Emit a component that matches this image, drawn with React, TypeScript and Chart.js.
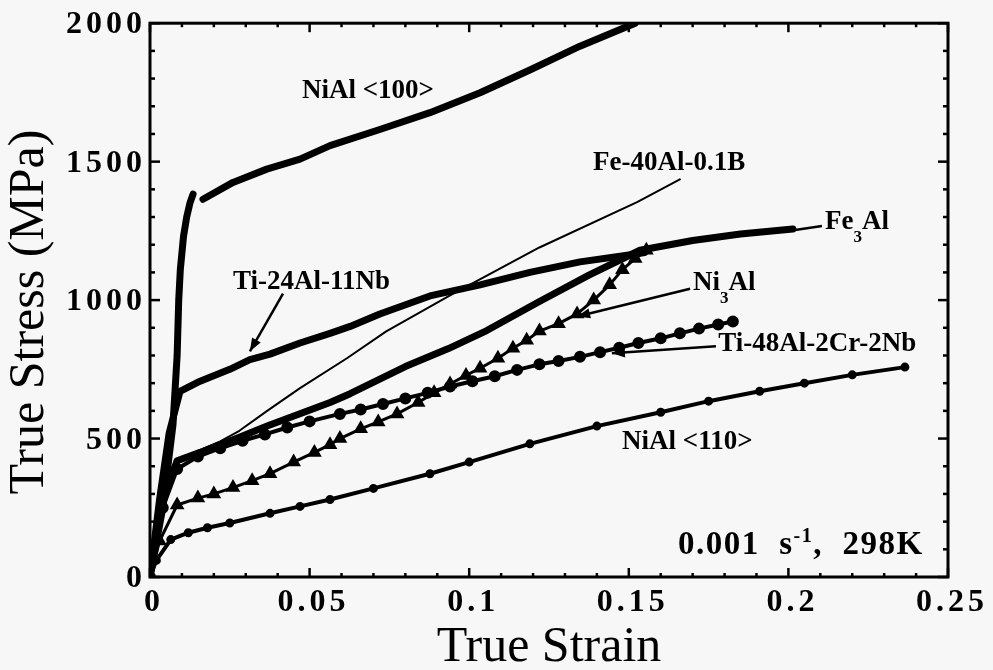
import React, { useEffect, useRef } from "react";
import { Chart, registerables } from "chart.js";

Chart.register(...registerables);

const SERIF = '"Liberation Serif", "Times New Roman", Times, serif';

// ---- axis ticks ----
const xTicks = [0, 0.05, 0.1, 0.15, 0.2, 0.25];
const xTickLabels = ["0", "0.05", "0.1", "0.15", "0.2", "0.25"];
const yTicks = [0, 500, 1000, 1500, 2000];
const yTickLabels = ["0", "500", "1000", "1500", "2000"];

// ---- series (true strain, true stress MPa) ----
const nial100Strain = [0, 0.004, 0.0072, 0.0085, 0.009, 0.0095, 0.0105, 0.0115, 0.0125, 0.0135, 0.015, 0.0166, 0.026, 0.0366, 0.047, 0.0564, 0.072, 0.0877, 0.1034, 0.119, 0.1347, 0.152];
const nial100Stress = [0, 250, 550, 800, 1000, 1110, 1230, 1300, 1350, 1383, null, 1364, 1425, 1473, 1509, 1558, 1616, 1677, 1749, 1831, 1917, 2000];

const ti24Strain = [0, 0.003, 0.006, 0.0094, 0.0157, 0.025, 0.0313, 0.0376, 0.047, 0.0564, 0.0627, 0.072, 0.0877, 0.1034, 0.119, 0.1347, 0.15, 0.155];
const ti24Stress = [0, 280, 520, 670, 707, 750, 785, 805, 845, 880, 905, 950, 1015, 1055, 1100, 1138, 1163, 1172];

const fe40Strain = [0, 0.003, 0.008, 0.015, 0.022, 0.028, 0.0367, 0.047, 0.0617, 0.074, 0.094, 0.122, 0.1526, 0.166];
const fe40Stress = [0, 300, 420, 455, 490, 528, 600, 682, 790, 887, 1017, 1190, 1354, 1436];

const fe3alStrain = [0, 0.003, 0.0085, 0.0157, 0.028, 0.0367, 0.0564, 0.0627, 0.08, 0.0935, 0.1055, 0.122, 0.1375, 0.1535, 0.17, 0.185, 0.2014];
const fe3alStress = [0, 250, 420, 450, 505, 545, 630, 662, 760, 825, 890, 995, 1090, 1180, 1215, 1239, 1257];

const ti48Strain = [0, 0.004, 0.0085, 0.015, 0.022, 0.029, 0.036, 0.043, 0.05, 0.0595, 0.066, 0.073, 0.08, 0.087, 0.094, 0.101, 0.108, 0.115, 0.122, 0.128, 0.1347, 0.141, 0.147, 0.153, 0.16, 0.166, 0.172, 0.178, 0.1826];
const ti48Stress = [0, 250, 390, 435, 465, 492, 515, 540, 562, 589, 605, 625, 645, 665, 688, 707, 725, 748, 768, 780, 795, 812, 828, 845, 862, 880, 897, 912, 923];

const ni3alStrain = [0, 0.003, 0.0085, 0.015, 0.02, 0.026, 0.032, 0.0376, 0.045, 0.0515, 0.0564, 0.0595, 0.066, 0.0715, 0.0774, 0.084, 0.089, 0.094, 0.099, 0.1034, 0.109, 0.1137, 0.118, 0.122, 0.128, 0.1338, 0.139, 0.144, 0.148, 0.152, 0.1555];
const ni3alStress = [0, 130, 260, 285, 300, 323, 348, 373, 415, 450, 478, 500, 535, 560, 589, 630, 665, 697, 728, 754, 790, 826, 855, 888, 915, 950, 1000, 1055, 1110, 1150, 1180];

const nial110Strain = [0, 0.002, 0.0065, 0.012, 0.018, 0.025, 0.0376, 0.047, 0.0564, 0.07, 0.0877, 0.1, 0.119, 0.14, 0.16, 0.175, 0.191, 0.205, 0.22, 0.2365];
const nial110Stress = [0, 60, 135, 160, 178, 195, 230, 255, 280, 320, 373, 415, 481, 545, 595, 635, 671, 700, 730, 758];

// ---- annotation texts ----
const curveLabels = [
  { parts: [{ t: "NiAl <100>" }], x: 0.0476, y: 1756 },
  { parts: [{ t: "Fe-40Al-0.1B" }], x: 0.1388, y: 1494 },
  { parts: [{ t: "Fe" }, { t: "3", sub: true }, { t: "Al" }], x: 0.2115, y: 1282 },
  { parts: [{ t: "Ti-24Al-11Nb" }], x: 0.026, y: 1066 },
  { parts: [{ t: "Ni" }, { t: "3", sub: true }, { t: "Al" }], x: 0.1701, y: 1063 },
  { parts: [{ t: "Ti-48Al-2Cr-2Nb" }], x: 0.178, y: 840 },
  { parts: [{ t: "NiAl <110>" }], x: 0.1479, y: 488 },
];
const conditionLabel = { parts: [{ t: "0.001  s" }, { t: "-1", sup: true }, { t: ",  298K" }], x: 0.1654, y: 115 };

const arrows = [
  { from: [0.04167, 1023], to: [0.0313, 815], head: true },
  { from: [0.1692, 1041], to: [0.1338, 941], head: true },
  { from: [0.1773, 833], to: [0.1447, 808], head: true },
  { from: [0.2105, 1268], to: [0.2021, 1253], head: false },
];

const xTitle = "True Strain";
const yTitle = "True Stress (MPa)";

function pts(xs: number[], ys: (number | null)[]) {
  return xs.map((x, i) => ({ x, y: ys[i] }));
}

type Part = { t: string; sub?: boolean; sup?: boolean };

function drawRich(ctx: CanvasRenderingContext2D, parts: Part[], px: number, py: number, size: number, spacing: string) {
  let x = px;
  ctx.textAlign = "left";
  ctx.textBaseline = "middle";
  for (const p of parts) {
    const s = p.sub || p.sup ? Math.round(size * 0.62) : size;
    ctx.font = `bold ${s}px ${SERIF}`;
    (ctx as any).letterSpacing = spacing;
    const dy = p.sub ? size * 0.58 : p.sup ? -size * 0.26 : 0;
    ctx.fillText(p.t, x, py + dy);
    x += ctx.measureText(p.t).width;
  }
}

const framePlugin = {
  id: "framePlugin",
  beforeDraw(chart: any) {
    (chart.ctx as any).letterSpacing = "4px";
  },
  beforeDatasetsDraw(chart: any) {
    (chart.ctx as any).letterSpacing = "0px";
  },
  afterDatasetsDraw(chart: any) {
    const ctx: CanvasRenderingContext2D = chart.ctx;
    const { left, right, top, bottom } = chart.chartArea;
    const xs = chart.scales.x;
    const ys = chart.scales.y;
    ctx.save();
    (ctx as any).letterSpacing = "0px";
    ctx.strokeStyle = "#000";
    ctx.fillStyle = "#000";
    // frame
    ctx.lineWidth = 3;
    ctx.strokeRect(left, top, right - left, bottom - top);
    // ticks
    ctx.lineWidth = 2.5;
    const line = (a: number, b: number, c: number, d: number) => {
      ctx.beginPath();
      ctx.moveTo(a, b);
      ctx.lineTo(c, d);
      ctx.stroke();
    };
    for (let i = 0; i <= 25; i++) {
      const px = xs.getPixelForValue(i * 0.01);
      const len = i % 5 === 0 ? 9 : 4;
      line(px, bottom, px, bottom - len);
      line(px, top, px, top + len);
    }
    for (let i = 0; i <= 20; i++) {
      const py = ys.getPixelForValue(i * 100);
      const len = i % 5 === 0 ? 10 : 5;
      line(left, py, left + len, py);
      line(right, py, right - len, py);
    }
    // arrows / leaders
    ctx.lineWidth = 2.5;
    for (const a of arrows) {
      const x1 = xs.getPixelForValue(a.from[0]);
      const y1 = ys.getPixelForValue(a.from[1]);
      const x2 = xs.getPixelForValue(a.to[0]);
      const y2 = ys.getPixelForValue(a.to[1]);
      line(x1, y1, x2, y2);
      if (a.head) {
        const ang = Math.atan2(y2 - y1, x2 - x1);
        const L = 13, W = 5;
        ctx.beginPath();
        ctx.moveTo(x2, y2);
        ctx.lineTo(x2 - L * Math.cos(ang) + W * Math.sin(ang), y2 - L * Math.sin(ang) - W * Math.cos(ang));
        ctx.lineTo(x2 - L * Math.cos(ang) - W * Math.sin(ang), y2 - L * Math.sin(ang) + W * Math.cos(ang));
        ctx.closePath();
        ctx.fill();
      }
    }
    // labels
    for (const l of curveLabels) {
      drawRich(ctx, l.parts, xs.getPixelForValue(l.x), ys.getPixelForValue(l.y), 27, "0px");
    }
    drawRich(ctx, conditionLabel.parts, xs.getPixelForValue(conditionLabel.x), ys.getPixelForValue(conditionLabel.y), 33, "1.5px");
    ctx.restore();
  },
  afterDraw(chart: any) {
    const ctx: CanvasRenderingContext2D = chart.ctx;
    const { left, right } = chart.chartArea;
    ctx.save();
    (ctx as any).letterSpacing = "0px";
    ctx.fillStyle = "#000";
    ctx.font = `50px ${SERIF}`;
    ctx.textAlign = "center";
    ctx.textBaseline = "middle";
    ctx.fillText(xTitle, (left + right) / 2, 648);
    ctx.translate(30, 312);
    ctx.rotate(-Math.PI / 2);
    ctx.fillText(yTitle, 0, 0);
    ctx.restore();
  },
};

export default function App() {
  const ref = useRef<HTMLCanvasElement | null>(null);
  useEffect(() => {
    document.body.style.margin = "0";
    document.body.style.background = "#f7f7f7";
    const black = "#000";
    const tickFont = { family: SERIF, size: 32, weight: "bold" as const };
    const chart = new Chart(ref.current!, {
      type: "line",
      data: {
        datasets: [
          { label: "NiAl <100>", data: pts(nial100Strain, nial100Stress), borderColor: black, borderWidth: 7, pointRadius: 0, spanGaps: false },
          { label: "Ti-24Al-11Nb", data: pts(ti24Strain, ti24Stress), borderColor: black, borderWidth: 7, pointRadius: 0 },
          { label: "Fe-40Al-0.1B", data: pts(fe40Strain, fe40Stress), borderColor: black, borderWidth: 2, pointRadius: 0 },
          { label: "Fe3Al", data: pts(fe3alStrain, fe3alStress), borderColor: black, borderWidth: 7, pointRadius: 0 },
          { label: "Ti-48Al-2Cr-2Nb", data: pts(ti48Strain, ti48Stress), borderColor: black, borderWidth: 4, pointRadius: 4, pointStyle: "circle", pointBackgroundColor: black, pointBorderColor: black },
          { label: "Ni3Al", data: pts(ni3alStrain, ni3alStress), borderColor: black, borderWidth: 3, pointRadius: 5.5, pointStyle: "triangle", pointBackgroundColor: black, pointBorderColor: black },
          { label: "NiAl <110>", data: pts(nial110Strain, nial110Stress), borderColor: black, borderWidth: 4, pointRadius: 2.5, pointStyle: "circle", pointBackgroundColor: black, pointBorderColor: black },
        ] as any,
      },
      options: {
        responsive: false,
        animation: false,
        devicePixelRatio: 1,
        layout: { padding: { left: 0, right: 45, top: 20, bottom: 0 } },
        elements: { line: { tension: 0, borderJoinStyle: "round", borderCapStyle: "round" } },
        plugins: { legend: { display: false }, tooltip: { enabled: false } },
        scales: {
          x: {
            type: "linear",
            min: 0,
            max: 0.25,
            afterBuildTicks: (s: any) => {
              s.ticks = xTicks.map((v) => ({ value: v }));
            },
            afterFit: (s: any) => {
              s.height = 93;
            },
            ticks: {
              callback: (_v: any, i: number) => xTickLabels[i],
              font: tickFont,
              color: black,
              padding: 7,
              labelOffset: 4,
              maxRotation: 0,
              autoSkip: false,
            },
            grid: { display: false, drawTicks: false },
            border: { display: false },
          },
          y: {
            type: "linear",
            min: 0,
            max: 2000,
            afterBuildTicks: (s: any) => {
              s.ticks = yTicks.map((v) => ({ value: v }));
            },
            afterFit: (s: any) => {
              s.width = 150;
            },
            ticks: {
              callback: (_v: any, i: number) => yTickLabels[i],
              font: tickFont,
              color: black,
              padding: 4,
              labelOffset: 2,
              autoSkip: false,
            },
            grid: { display: false, drawTicks: false },
            border: { display: false },
          },
        },
      },
      plugins: [framePlugin],
    } as any);
    return () => chart.destroy();
  }, []);
  return (
    <div style={{ position: "fixed", left: 0, top: 0, width: 993, height: 670, background: "#f7f7f7" }}>
      <canvas ref={ref} width={993} height={670} style={{ display: "block", width: 993, height: 670 }} />
    </div>
  );
}
